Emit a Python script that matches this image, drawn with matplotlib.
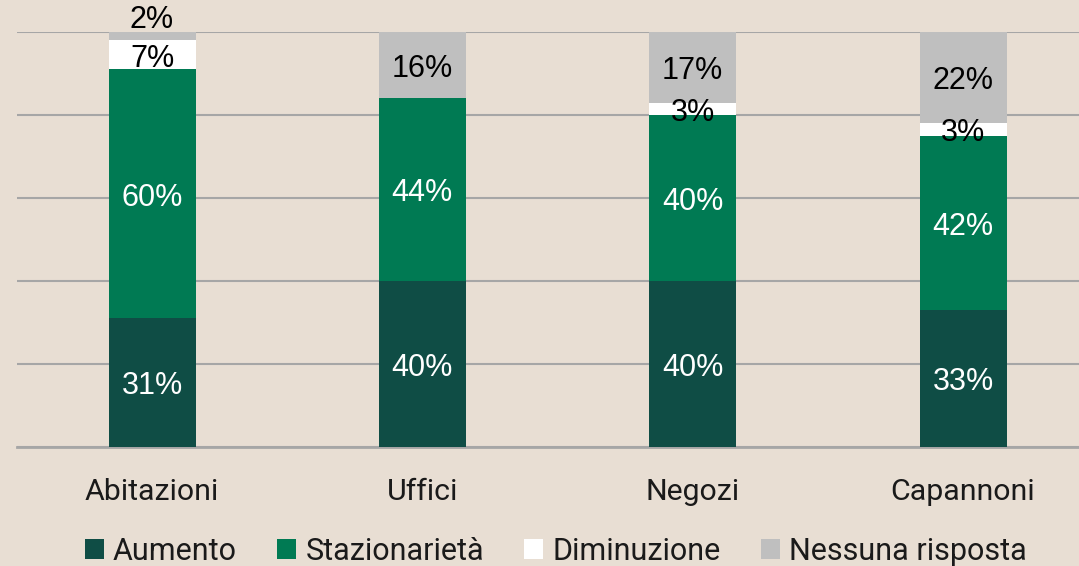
import matplotlib
matplotlib.use("Agg")
import matplotlib.pyplot as plt
import numpy as np

categories = ["Abitazioni", "Uffici", "Negozi", "Capannoni"]
series_names = ["Aumento", "Stazionarietà", "Diminuzione", "Nessuna risposta"]
aumento = [31, 40, 40, 33]
stazionarieta = [60, 44, 40, 42]
diminuzione = [7, 0, 3, 3]
nessuna = [2, 16, 17, 22]

colors = ["#0F4D45", "#007A53", "#FFFFFF", "#BFBFBF"]
text_colors = ["white", "white", "black", "black"]
bg = "#E8DED3"

plt.rcParams['font.family'] = ['Liberation Sans', 'DejaVu Sans']

fig = plt.figure(figsize=(10.79, 5.66), dpi=100, facecolor=bg)
ax = fig.add_axes([17/1079, 1-447/566, 1-17/1079, (447-32)/566])
ax.set_facecolor(bg)

x = np.arange(len(categories))
width = 0.322
bottom = np.zeros(len(categories))
data = [aumento, stazionarieta, diminuzione, nessuna]
for s, (vals, col, tcol, name) in enumerate(zip(data, colors, text_colors, series_names)):
    vals = np.array(vals, dtype=float)
    ax.bar(x, vals, width, bottom=bottom, color=col, label=name, zorder=3, linewidth=0)
    for i, v in enumerate(vals):
        if v <= 0:
            continue
        yc = bottom[i] + v / 2 - 0.9
        if s == len(data) - 1 and v < 3:
            yc = bottom[i] + v + 3.0
        ax.text(x[i], yc, f"{int(v)}%", ha="center", va="center", color=tcol,
                fontsize=22, zorder=5, clip_on=False)
    bottom += vals

ax.set_xlim(-0.4995, 3.429)
ax.set_ylim(0, 100)
ax.set_yticks(np.arange(0, 101, 20))
ax.yaxis.grid(True, color="#A6A6A6", linewidth=1.5, zorder=0)
ax.tick_params(axis="y", left=False, labelleft=False)
ax.tick_params(axis="x", bottom=False, pad=19)
ax.set_xticks(x)
ax.set_xticklabels(categories, fontsize=21.8, color="#1a1a1a", family=['Roboto', 'DejaVu Sans'])
for sp in ["top", "right", "left"]:
    ax.spines[sp].set_visible(False)
ax.spines["bottom"].set_color("#A6A6A6")
ax.spines["bottom"].set_linewidth(2)

handles, labels = ax.get_legend_handles_labels()
leg = fig.legend(handles, labels, loc="center", bbox_to_anchor=(556/1079, 1-551/566), ncol=4,
                 frameon=False, handlelength=0.62, handleheight=0.62,
                 handletextpad=0.3, columnspacing=1.32, borderaxespad=0,
                 prop={'family': ['Roboto', 'DejaVu Sans'], 'size': 22})
for t in leg.get_texts():
    t.set_color("#1a1a1a")

fig.savefig("out.png", dpi=100, facecolor=bg)
